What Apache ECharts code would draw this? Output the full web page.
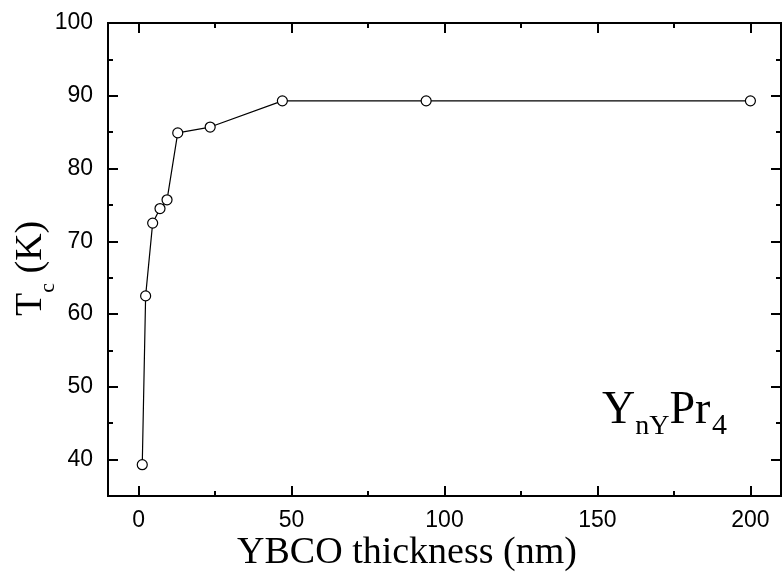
<!DOCTYPE html>
<html>
<head>
<meta charset="utf-8">
<script src="https://cdn.jsdelivr.net/npm/echarts@6/dist/echarts.min.js"></script>
<style>
  html, body { margin: 0; padding: 0; background: #fff; }
  #chart { width: 782px; height: 574px; }
</style>
</head>
<body>
<div id="chart"></div>
<script>
// YBCO layer thickness (nm) and critical temperature Tc (K)
const thickness = [1.2, 2.3, 4.6, 7.0, 9.3, 12.8, 23.4, 47, 94, 200];
const tc = [39.3, 62.5, 72.5, 74.5, 75.7, 84.9, 85.7, 89.3, 89.3, 89.3];

// Axis ticks
const xMajorTicks = [0, 50, 100, 150, 200];
const xMinorTicks = [25, 75, 125, 175];
const yMajorTicks = [40, 50, 60, 70, 80, 90, 100];
const yMinorTicks = [45, 55, 65, 75, 85, 95];

const sans = 'Liberation Sans, Arial, sans-serif';
const serif = 'Liberation Serif, Times New Roman, serif';

function xAxisDef(position, ticks, len, labels) {
  return {
    type: 'value', position: position, min: -10, max: 210,
    axisLine: { show: true, onZero: false, lineStyle: { color: '#000', width: 2 } },
    axisTick: { show: true, inside: true, length: len, customValues: ticks, lineStyle: { color: '#000', width: 2 } },
    axisLabel: labels
      ? { show: true, customValues: ticks, color: '#000', fontSize: 23, fontFamily: sans, margin: 13 }
      : { show: false },
    splitLine: { show: false }
  };
}
function yAxisDef(position, ticks, len, labels) {
  return {
    type: 'value', position: position, min: 35, max: 100,
    axisLine: { show: true, onZero: false, lineStyle: { color: '#000', width: 2 } },
    axisTick: { show: true, inside: true, length: len, customValues: ticks, lineStyle: { color: '#000', width: 2 } },
    axisLabel: labels
      ? { show: true, customValues: ticks, color: '#000', fontSize: 23, fontFamily: sans, margin: 15 }
      : { show: false },
    splitLine: { show: false }
  };
}

// plain text piece, vertically placed by the middle of its em box
function piece(text, x, y, size) {
  return {
    type: 'text', x: x, y: y,
    style: { text: text, fontFamily: serif, fontSize: size, fill: '#000', align: 'left', verticalAlign: 'middle' }
  };
}

const chart = echarts.init(document.getElementById('chart'), null, { renderer: 'canvas' });
chart.setOption({
  backgroundColor: '#fff',
  animation: false,
  grid: { left: 108, right: 1, top: 23, bottom: 78, containLabel: false },
  xAxis: [
    xAxisDef('bottom', xMajorTicks, 10, true),
    xAxisDef('bottom', xMinorTicks, 5, false),
    xAxisDef('top', xMajorTicks, 10, false),
    xAxisDef('top', xMinorTicks, 5, false)
  ],
  yAxis: [
    yAxisDef('left', yMajorTicks, 10, true),
    yAxisDef('left', yMinorTicks, 5, false),
    yAxisDef('right', yMajorTicks, 10, false),
    yAxisDef('right', yMinorTicks, 5, false)
  ],
  series: [{
    type: 'line',
    xAxisIndex: 0, yAxisIndex: 0,
    data: thickness.map((t, i) => [t, tc[i]]),
    symbol: 'circle',
    symbolSize: 10,
    lineStyle: { color: '#000', width: 1.2 },
    itemStyle: { color: '#fff', borderColor: '#000', borderWidth: 1.2 },
    z: 5
  }],
  graphic: [
    {
      type: 'text', x: 407, y: 553,
      style: { text: 'YBCO thickness (nm)', font: '38px ' + serif, fill: '#000', align: 'center', verticalAlign: 'middle' }
    },
    // y-axis title, rotated to read bottom-to-top
    {
      type: 'group', x: 0, y: 267, rotation: Math.PI / 2,
      children: [
        piece('T', -49, 30.6, 38),
        piece('c', -25.8, 48.4, 22),
        piece(' (K)', -16, 30.6, 38)
      ]
    },
    // compound label
    {
      type: 'group', x: 0, y: 0,
      children: [
        piece('Y', 602, 411, 46),
        piece('nY', 635.2, 426.6, 28),
        piece('Pr', 669.4, 411, 46),
        piece('4', 712, 426, 30)
      ]
    }
  ]
});
</script>
</body>
</html>
